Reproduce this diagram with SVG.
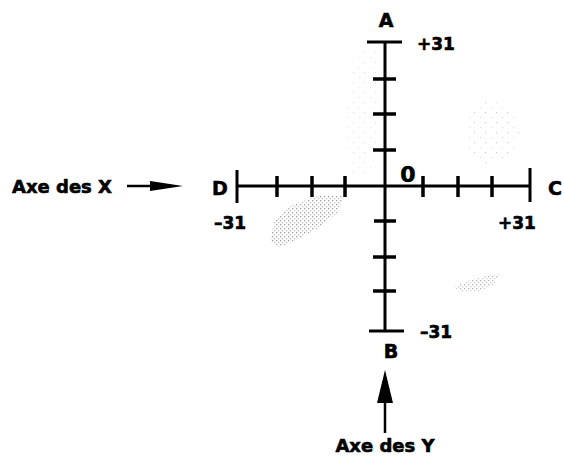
<svg xmlns="http://www.w3.org/2000/svg" width="564" height="457" viewBox="0 0 564 457">
<style>
text{font-family:"DejaVu Sans","Liberation Sans",sans-serif;font-weight:bold;fill:#000;stroke:#000;stroke-width:0.6}
.lbl{font-size:19px}
.num{font-size:17px}
.cap{font-size:18px}
.axis{stroke:#000;stroke-width:3;fill:none}
.tick{stroke:#000;stroke-width:3.5;fill:none}
.shaft{stroke:#000;stroke-width:2.5;fill:none}
</style>
<defs>
<pattern id="stip" width="4" height="4" patternUnits="userSpaceOnUse">
<rect x="0" y="0" width="1.3" height="1.3" fill="#a0a0a0"/>
<rect x="2" y="2" width="1.3" height="1.3" fill="#c0c0c0"/>
</pattern>
<pattern id="sparse" width="11" height="10" patternUnits="userSpaceOnUse">
<rect x="1" y="2" width="1.2" height="1.2" fill="#b0b0b0"/>
<rect x="7" y="7" width="1.2" height="1.2" fill="#c8c8c8"/>
</pattern>
</defs>
<g id="texture">
<path d="M270,242 L274,222 L292,205 L318,196 L343,196 L338,212 L318,228 L296,240 L280,247 Z" fill="url(#stip)"/>
<path d="M454,287 L470,280 L490,275 L500,274 L494,284 L478,292 L462,292 Z" fill="url(#stip)" opacity="0.8"/>
<path d="M465,110 L490,100 L512,108 L520,135 L510,160 L480,165 L466,145 Z" fill="url(#sparse)" opacity="0.6"/>
<path d="M355,55 L380,48 L382,110 L370,180 L350,175 L346,120 Z" fill="url(#sparse)" opacity="0.4"/>
</g>
<g id="axes">
<g id="x-axis">
<line class="axis" x1="237" y1="186" x2="530" y2="186"/>
<line class="axis" x1="237" y1="170" x2="237" y2="203"/>
<line class="axis" x1="530" y1="168" x2="530" y2="202"/>
<line class="tick" x1="277" y1="176" x2="277" y2="197"/>
<line class="tick" x1="312" y1="176" x2="312" y2="197"/>
<line class="tick" x1="345" y1="176" x2="345" y2="197"/>
<line class="tick" x1="423" y1="176" x2="423" y2="197"/>
<line class="tick" x1="458" y1="176" x2="458" y2="197"/>
<line class="tick" x1="492" y1="176" x2="492" y2="197"/>
</g>
<g id="y-axis">
<line class="axis" x1="385" y1="42" x2="385" y2="331"/>
<line class="axis" x1="367" y1="42" x2="402" y2="42"/>
<line class="axis" x1="369" y1="331" x2="404" y2="331"/>
<line class="tick" x1="373" y1="79" x2="396" y2="79"/>
<line class="tick" x1="373" y1="114" x2="396" y2="114"/>
<line class="tick" x1="373" y1="150" x2="396" y2="150"/>
<line class="tick" x1="374" y1="221" x2="396" y2="221"/>
<line class="tick" x1="373" y1="257" x2="396" y2="257"/>
<line class="tick" x1="373" y1="291" x2="396" y2="291"/>
</g>
</g>
<g id="connectors">
<line class="shaft" x1="127" y1="186" x2="152" y2="186"/>
<polygon points="150,181 183,186 150,191" fill="#000"/>
<line class="shaft" x1="385" y1="433" x2="385" y2="400"/>
<polygon points="377,403 385,370 393,403" fill="#000"/>
</g>
<g id="labels">
<text class="lbl" x="386" y="27" text-anchor="middle">A</text>
<text class="lbl" x="391" y="358" text-anchor="middle">B</text>
<text class="lbl" x="555" y="195" text-anchor="middle">C</text>
<text class="lbl" x="220" y="195" text-anchor="middle">D</text>
<text class="num" x="436" y="50" text-anchor="middle">+31</text>
<text class="num" x="436" y="338" text-anchor="middle">–31</text>
<text class="num" x="230" y="229" text-anchor="middle">–31</text>
<text class="num" x="517" y="229" text-anchor="middle">+31</text>
<text x="408" y="182" text-anchor="middle" style="font-size:22px">0</text>
<text class="cap" x="12" y="193">Axe des X</text>
<text class="cap" x="385" y="452" text-anchor="middle">Axe des Y</text>
</g>
</svg>
